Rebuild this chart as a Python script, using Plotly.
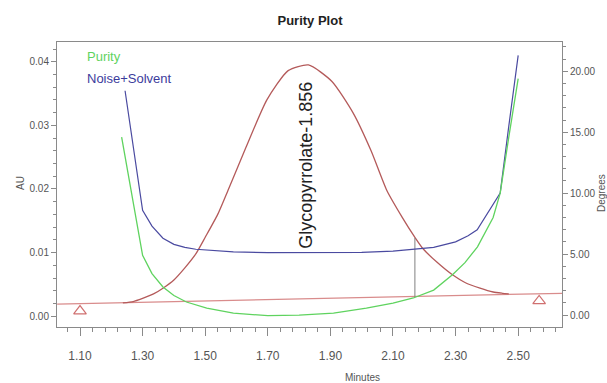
import plotly.graph_objects as go

# ---- data ----
peak_t = [1.237, 1.27, 1.30, 1.335, 1.365, 1.40, 1.435, 1.47, 1.50, 1.54, 1.573, 1.63,
          1.697, 1.765, 1.83, 1.905, 1.972, 2.03, 2.08, 2.13, 2.17, 2.196, 2.24, 2.29,
          2.33, 2.378, 2.42, 2.45, 2.47]
peak_au = [0.0021, 0.0023, 0.0028, 0.0035, 0.0044, 0.0057, 0.0076, 0.0098, 0.0124, 0.0160,
           0.0198, 0.0265, 0.0340, 0.0386, 0.0395, 0.0369, 0.0320, 0.0260, 0.0198, 0.0155,
           0.0124, 0.0106, 0.0085, 0.0065, 0.0053, 0.0044, 0.0038, 0.0036, 0.0035]

baseline_t = [1.027, 2.64]
baseline_au = [0.0019, 0.0036]

noise_t = [1.244, 1.27, 1.30, 1.33, 1.365, 1.40, 1.435, 1.47, 1.505, 1.59, 1.70, 1.80,
           1.90, 2.00, 2.10, 2.17, 2.23, 2.30, 2.34, 2.369, 2.388, 2.415, 2.4425, 2.47, 2.50]
noise_deg = [18.4, 14.0, 8.6, 7.3, 6.3, 5.8, 5.55, 5.4, 5.33, 5.18, 5.12, 5.12,
             5.12, 5.15, 5.25, 5.4, 5.55, 6.0, 6.5, 7.0, 7.8, 8.9, 10.0, 15.5, 21.3]

purity_t = [1.233, 1.265, 1.30, 1.33, 1.365, 1.40, 1.44, 1.505, 1.59, 1.70, 1.80, 1.91,
            2.015, 2.10, 2.165, 2.23, 2.29, 2.33, 2.37, 2.42, 2.4425, 2.47, 2.50]
purity_deg = [14.6, 10.0, 4.9, 3.4, 2.3, 1.6, 1.07, 0.57, 0.16, -0.05, 0.0, 0.16,
              0.57, 0.98, 1.4, 2.05, 3.3, 4.3, 5.6, 8.0, 10.0, 14.6, 19.4]

marker_t = [1.10, 2.567]
marker_au = [0.0008, 0.0024]

apex_time = 2.17
apex_line_au = [0.0030, 0.0123]

peak_label = "Glycopyrrolate-1.856"
label_t, label_au = 1.822, 0.0238

x_ticks = [1.10, 1.30, 1.50, 1.70, 1.90, 2.10, 2.30, 2.50]
au_ticks = [0.00, 0.01, 0.02, 0.03, 0.04]
deg_ticks = [0.0, 5.0, 10.0, 15.0, 20.0]

FONT = "Liberation Sans, Arial, sans-serif"
AX = "#8a8a8a"
W, H = 607, 383
ML, MR, MT, MB = 57, 45, 42, 56
PW, PH = W - ML - MR, H - MT - MB


def px(xp):
    return (xp - ML) / PW


def py(yp):
    return 1 - (yp - MT) / PH


fig = go.Figure()
fig.add_trace(go.Scatter(x=baseline_t, y=baseline_au, mode="lines",
                         line=dict(color="#d98c8c", width=1.3), hoverinfo="skip"))
fig.add_trace(go.Scatter(x=peak_t, y=peak_au, mode="lines",
                         line=dict(color="#b45a5a", width=1.3, shape="spline", smoothing=0.6)))
fig.add_trace(go.Scatter(x=[apex_time, apex_time], y=apex_line_au, mode="lines",
                         line=dict(color="#808080", width=1)))
fig.add_trace(go.Scatter(x=marker_t, y=marker_au, mode="markers",
                         marker=dict(symbol="triangle-up-open", size=11,
                                     color="#d07070", line=dict(width=1.2))))
fig.add_trace(go.Scatter(x=noise_t, y=noise_deg, mode="lines", yaxis="y2",
                         line=dict(color="#4a4aa0", width=1.2)))
fig.add_trace(go.Scatter(x=purity_t, y=purity_deg, mode="lines", yaxis="y2",
                         line=dict(color="#5fd35f", width=1.3)))

lab = dict(size=10, color="#555555")
fig.update_layout(
    width=W, height=H,
    margin=dict(l=ML, r=MR, t=MT, b=MB, autoexpand=False),
    paper_bgcolor="white", plot_bgcolor="white",
    showlegend=False,
    font=dict(family=FONT, color="#555555", size=11),
    title=dict(text="<b>Purity Plot</b>", x=310 / W, xanchor="center",
               y=1 - 20 / H, yanchor="middle", yref="container",
               font=dict(family=FONT, size=13, color="#222222")),
    xaxis=dict(range=[1.0265, 2.64], tickvals=x_ticks, automargin=False,
               ticktext=[f"{v:.2f}" for v in x_ticks],
               showgrid=False, zeroline=False, showline=True, linecolor=AX, linewidth=1,
               mirror=True, ticks="outside", ticklen=8, tickcolor=AX,
               ticklabelstandoff=10,
               minor=dict(tick0=1.10, dtick=0.04, ticks="outside", ticklen=4, tickcolor=AX),
               tickfont=dict(size=12, color="#555555")),
    yaxis=dict(range=[-0.0017, 0.0431], tickvals=au_ticks, automargin=False,
               ticktext=[f"{v:.2f}" for v in au_ticks],
               showgrid=False, zeroline=False, showline=True, linecolor=AX, linewidth=1,
               ticks="outside", ticklen=5, tickcolor=AX,
               minor=dict(tick0=0, dtick=0.002, ticks="outside", ticklen=3, tickcolor=AX),
               tickfont=dict(size=10, color="#555555")),
    yaxis2=dict(range=[-0.98, 22.4], overlaying="y", side="right", tickvals=deg_ticks,
                automargin=False,
                ticktext=[f"{v:.2f}" for v in deg_ticks],
                showgrid=False, zeroline=False, showline=True, linecolor=AX, linewidth=1,
                ticks="outside", ticklen=5, tickcolor=AX,
                minor=dict(tick0=0, dtick=1, ticks="outside", ticklen=3, tickcolor=AX),
                tickfont=dict(size=10, color="#555555")),
    annotations=[
        dict(text=peak_label, x=label_t, y=label_au, xref="x", yref="y", textangle=-90,
             showarrow=False, xanchor="center", yanchor="middle",
             font=dict(family=FONT, size=18, color="#222222")),
        dict(text="Purity", x=px(86), y=py(57), xref="paper", yref="paper", showarrow=False,
             font=dict(size=13, color="#5fd35f"), xanchor="left", yanchor="middle",
             borderpad=0),
        dict(text="Noise+Solvent", x=px(86), y=py(79), xref="paper", yref="paper",
             showarrow=False, font=dict(size=13, color="#3c3c9c"), xanchor="left",
             yanchor="middle", borderpad=0),
        dict(text="AU", x=px(20), y=py(183), xref="paper", yref="paper", showarrow=False,
             textangle=-90, xanchor="center", yanchor="middle", font=lab),
        dict(text="Degrees", x=px(601), y=py(193), xref="paper", yref="paper",
             showarrow=False, textangle=-90, xanchor="center", yanchor="middle", font=lab),
        dict(text="Minutes", x=px(362), y=py(377), xref="paper", yref="paper",
             showarrow=False, xanchor="center", yanchor="middle", font=lab),
    ],
)

fig.write_html("out.html", config={"displayModeBar": False},
               post_script="document.body.style.margin='0';document.body.style.padding='0';")
